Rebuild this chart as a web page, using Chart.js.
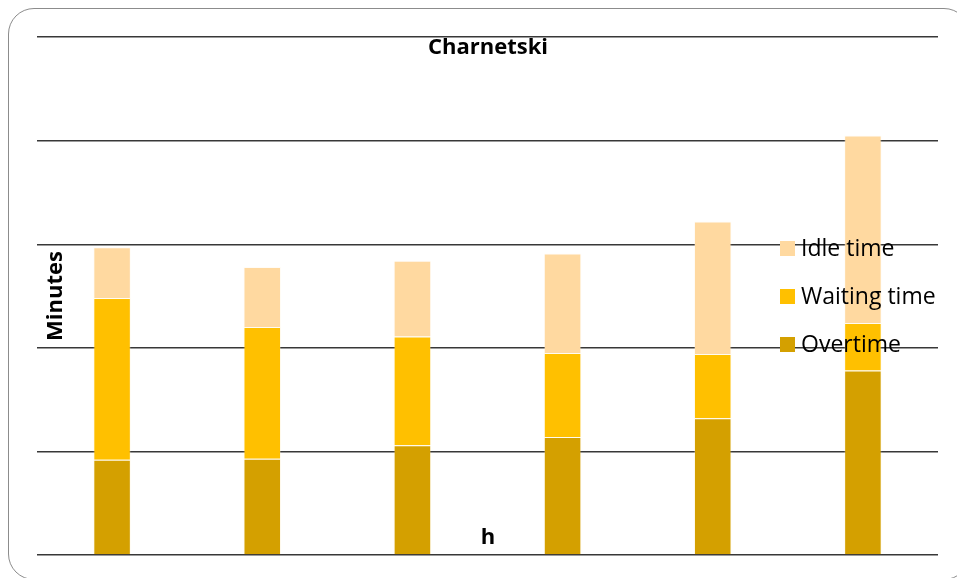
<!DOCTYPE html>
<html>
<head>
<meta charset="utf-8">
<script src="https://cdn.jsdelivr.net/npm/chart.js@4.4.1/dist/chart.umd.min.js"></script>
<style>
    html, body { margin: 0; padding: 0; background: #fff; overflow: hidden; }
    #wrap { position: relative; width: 957px; height: 578px; overflow: hidden; }
    #frame {
        position: absolute; left: 8px; top: 8px; width: 962px; height: 572px;
        border: 1.5px solid #8c8c8c; border-radius: 26px; box-sizing: border-box;
    }
    canvas { position: absolute; left: 0; top: 0; }
</style>
</head>
<body>
<div id="wrap">
    <div id="frame"></div>
    <canvas id="chart" width="957" height="578"></canvas>
</div>
<script>
const categories = ['1', '2', '3', '4', '5', '6'];
const overtime = [92, 93, 106, 114, 132, 178];
const waitingTime = [156, 127, 105, 81, 62, 46];
const idleTime = [49, 58, 73, 96, 128, 181];

const seriesColors = {
    overtime: 'rgb(212, 160, 0)',
    waiting: 'rgb(255, 192, 0)',
    idle: 'rgb(255, 217, 160)'
};

const FONT = '"Open Sans", Lato, sans-serif';

// title, axis titles and legend sit on top of the plot, so draw them last
const overlayText = {
    id: 'overlayText',
    afterDraw(chart) {
        const ctx = chart.ctx;
        ctx.save();
        ctx.fillStyle = '#000';
        ctx.textBaseline = 'alphabetic';

        ctx.font = 'bold 22px ' + FONT;
        ctx.textAlign = 'center';
        ctx.fillText('Charnetski', 488, 54);
        ctx.fillText('h', 488, 544);

        ctx.save();
        ctx.translate(62, 296);
        ctx.rotate(-Math.PI / 2);
        ctx.fillText('Minutes', 0, 0);
        ctx.restore();

        ctx.font = '23px ' + FONT;
        ctx.textAlign = 'left';
        const items = chart.data.datasets.slice().reverse();
        items.forEach((ds, i) => {
            const y = 241 + i * 48;
            ctx.fillStyle = ds.backgroundColor;
            ctx.fillRect(780, y, 15, 15);
            ctx.fillStyle = '#000';
            ctx.fillText(ds.label, 801, y + 15);
        });
        ctx.restore();
    }
};

new Chart(document.getElementById('chart'), {
    type: 'bar',
    data: {
        labels: categories,
        datasets: [
            {
                label: 'Overtime',
                data: overtime,
                backgroundColor: seriesColors.overtime,
                borderColor: 'rgba(255, 240, 200, 0.25)',
                borderWidth: 1
            }, {
                label: 'Waiting time',
                data: waitingTime,
                backgroundColor: seriesColors.waiting,
                borderColor: 'rgba(255, 240, 200, 0.25)',
                borderWidth: 1
            }, {
                label: 'Idle time',
                data: idleTime,
                backgroundColor: seriesColors.idle,
                borderColor: 'rgba(255, 245, 225, 0.25)',
                borderWidth: 1
            }
        ]
    },
    options: {
        responsive: false,
        animation: false,
        devicePixelRatio: 1,
        layout: {
            padding: { left: 37, right: 19, top: 37, bottom: 23 }
        },
        datasets: {
            bar: {
                barPercentage: 0.5,
                categoryPercentage: 0.5
            }
        },
        plugins: {
            legend: { display: false },
            title: { display: false },
            tooltip: { enabled: false }
        },
        scales: {
            x: {
                display: false,
                stacked: true
            },
            y: {
                stacked: true,
                min: 0,
                max: 500,
                ticks: { display: false, stepSize: 100 },
                grid: { color: '#383838', lineWidth: 1.4, drawTicks: false },
                border: { display: false }
            }
        }
    },
    plugins: [overlayText]
});
</script>
</body>
</html>
